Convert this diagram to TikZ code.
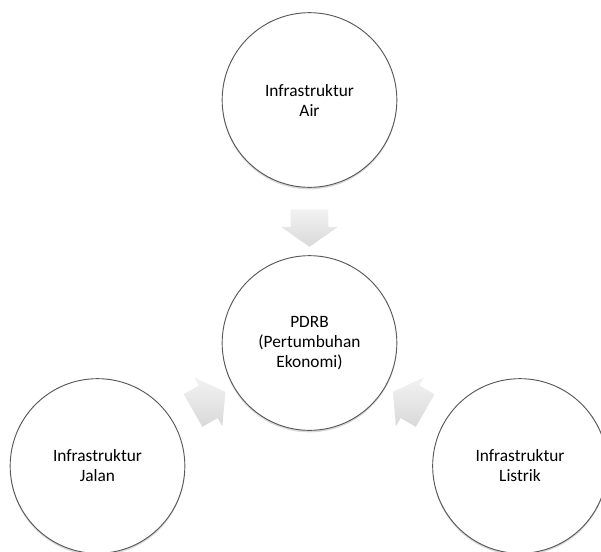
\documentclass[tikz,border=0pt]{standalone}
\usepackage{fontspec}
\setmainfont{Carlito}
\usepackage{tikz}
\usetikzlibrary{shapes.arrows,shadows,calc}
\tikzset{
  ra/circle/.style={draw=black!65, line width=0.7pt, circle, fill=white, minimum size=131pt, inner sep=0pt, align=center,
    font=\fontsize{13}{15}\selectfont,
    drop shadow={shadow xshift=0pt, shadow yshift=-1.5pt, opacity=0.25, fill=black!60}},
  ra/arrow/.style={single arrow, draw=none, inner xsep=0pt, inner ysep=13.9pt, minimum height=28pt,
    single arrow head extend=7.1pt, single arrow tip angle=110,
    top color=black!5, bottom color=black!15}
}

\begin{document}
\begin{tikzpicture}[x=0.75pt,y=-0.75pt]
  \useasboundingbox (0,0) rectangle (601,551);

  \node[ra/circle] (pdrb) at (309.5,343) {PDRB\\(Pertumbuhan\\Ekonomi)};
  \node[ra/circle] (air) at (309.5,100) {Infrastruktur\\Air};
  \node[ra/circle] (jalan) at (97.5,466) {Infrastruktur\\Jalan};
  \node[ra/circle] (listrik) at (520,466) {Infrastruktur\\Listrik};

  % arrows sit halfway between the outer circles and the centre
  \node[ra/arrow, rotate=-90] (a1) at ($(air)!0.5!(pdrb)$) {};
  \node[ra/arrow, rotate=30] (a2) at ($(jalan)!0.5!(pdrb)$) {};
  \node[ra/arrow, rotate=150] (a3) at ($(listrik)!0.5!(pdrb)$) {};
\end{tikzpicture}
\end{document}
